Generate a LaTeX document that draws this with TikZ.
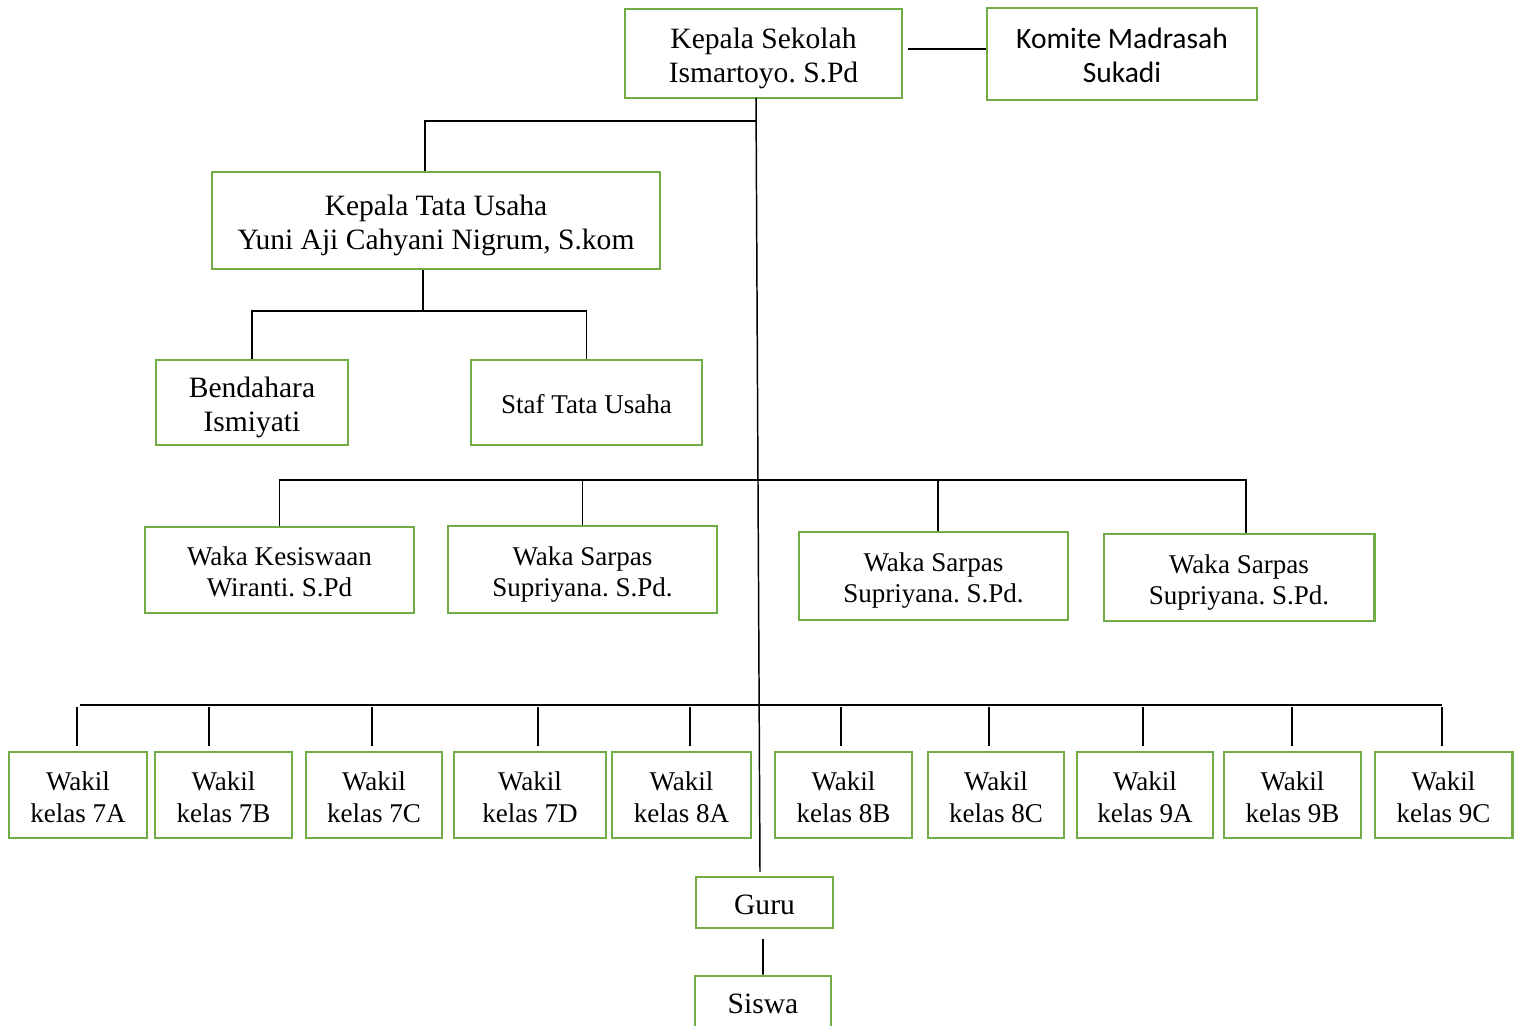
\documentclass[tikz,border=0pt]{standalone}
\usepackage{fontspec}
\setmainfont{Liberation Serif}
\newfontfamily\komitefont{Carlito}
\usepackage{tikz}

\definecolor{hijau}{HTML}{70AD47}
\newcommand{\satuan}{0.4065pt}
\newcommand{\isi}[1]{\raisebox{-2pt}[\height][\depth]{\begin{tabular}{@{}c@{}}#1\end{tabular}}}

\tikzset{
    kotak/.style={draw=hijau, line width=1.2pt, align=center, inner sep=0pt,
        font=\fontsize{12}{13.8}\selectfont},
    kecil/.style={font=\fontsize{11}{12.6}\selectfont},
    garis/.style={line width=0.6pt, black}
}

\begin{document}
\frenchspacing
\begin{tikzpicture}[x=\satuan, y=-\satuan]
    \useasboundingbox (0,0) rectangle (1518,1026);

    % Kepala sekolah dan komite
    \node[kotak, minimum width=277*\satuan, minimum height=89*\satuan] (ks) at (763.5,53.5) {\isi{Kepala Sekolah\\Ismartoyo. S.Pd}};
    \node[kotak, minimum width=270*\satuan, minimum height=92*\satuan, font=\komitefont\fontsize{12}{13.8}\selectfont] (km) at (1122,54) {\isi{Komite Madrasah\\Sukadi}};
    \draw[garis] (908,49) -- (km.west |- 908,49);

    % Tata usaha
    \node[kotak, minimum width=448*\satuan, minimum height=97*\satuan] (ktu) at (436,220.5) {\isi{Kepala Tata Usaha\\Yuni Aji Cahyani Nigrum, S.kom}};
    \node[kotak, minimum width=192*\satuan, minimum height=85*\satuan] (bd) at (252,402.5) {\isi{Bendahara\\Ismiyati}};
    \node[kotak, kecil, minimum width=231*\satuan, minimum height=85*\satuan] (staf) at (586.5,402.5) {\isi{Staf Tata Usaha}};

    % Waka
    \node[kotak, kecil, minimum width=269*\satuan, minimum height=86*\satuan] (wk) at (279.5,570) {\isi{Waka Kesiswaan\\Wiranti. S.Pd}};
    \node[kotak, kecil, minimum width=269*\satuan, minimum height=87*\satuan] (ws1) at (582.5,569.5) {\isi{Waka Sarpas\\Supriyana. S.Pd.}};
    \node[kotak, kecil, minimum width=269*\satuan, minimum height=88*\satuan] (ws2) at (933.5,576) {\isi{Waka Sarpas\\Supriyana. S.Pd.}};
    \node[kotak, kecil, minimum width=270*\satuan, minimum height=87*\satuan] (ws3) at (1239,577.5) {\isi{Waka Sarpas\\Supriyana. S.Pd.}};

    % Wakil kelas
    \foreach \n/\x/\w in {7A/78/138, 7B/223.5/137, 7C/374/136, 7D/530/152,
        8A/681.5/139, 8B/843.5/137, 8C/996/136, 9A/1145/136,
        9B/1292.5/137, 9C/1443.5/137}
        \node[kotak, font=\fontsize{11}{13.4}\selectfont, minimum width=\w*\satuan, minimum height=86*\satuan] (w\n) at (\x,795) {\isi{Wakil\\kelas \n}};

    % Guru dan siswa
    \node[kotak, minimum width=137*\satuan, minimum height=51*\satuan] (guru) at (764.5,902.5) {\isi{Guru}};
    \node[kotak, minimum width=136*\satuan, minimum height=52*\satuan] (siswa) at (763,1002) {\isi{Siswa}};

    % Garis utama
    \coordinate (atas) at (756,98);
    \coordinate (bawah) at (760,872);
    \draw[garis] (atas) -- (bawah);
    \draw[garis] (763,0 |- guru.south) ++(0,10) -- (763,0 |- siswa.north) -- ++(0,-3);

    % Cabang tata usaha
    \coordinate (c1) at (756,121);
    \draw[garis] (c1) -| (425,0 |- ktu.north);
    \coordinate (c2) at (423,311);
    \draw[garis] (423,0 |- ktu.south) -- (c2);
    \draw[garis] (bd.north) |- (c2) -| (staf.north);

    % Cabang waka
    \coordinate (c3) at (758,480);
    \draw[garis] (wk.north) |- (c3) -| (1246,0 |- ws3.north);
    \draw[garis] (ws1.north) -- (ws1.north |- c3);
    \draw[garis] (938,0 |- ws2.north) -- (938,0 |- c3);

    % Cabang wakil kelas
    \coordinate (c4) at (760,705);
    \draw[garis] (80,0 |- c4) -- (1442,0 |- c4);
    \foreach \n/\dx in {7A/77, 7B/209, 7C/372, 7D/538, 8A/690, 8B/841, 8C/989, 9A/1143, 9B/1292, 9C/1442}
        \draw[garis] (\dx,0 |- w\n.north) ++(0,-5) -- (\dx,707);
\end{tikzpicture}
\end{document}
